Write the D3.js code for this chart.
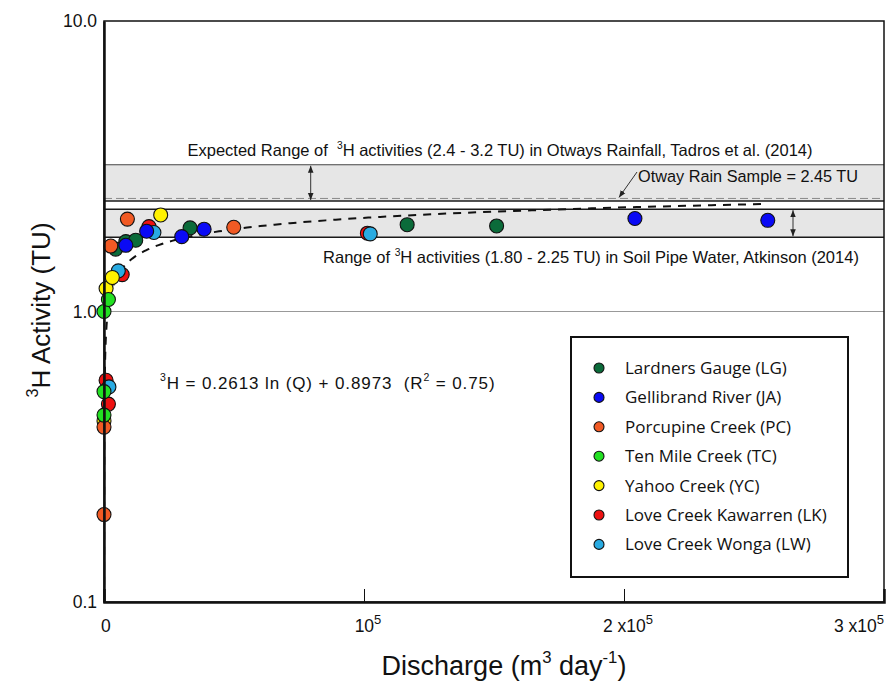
<!DOCTYPE html>
<html>
<head>
<meta charset="utf-8">
<script src="https://cdn.jsdelivr.net/npm/d3@7"></script>
<style>
  html, body { margin: 0; padding: 0; background: #fff; }
  svg { display: block; }
  text { font-family: "Liberation Sans", Arial, sans-serif; fill: #111; white-space: pre; }
  .legend text { font-family: "Open Sans", "Noto Sans", sans-serif; }
</style>
</head>
<body>
<svg id="chart" width="887" height="683"></svg>
<script>
// ---- Sites (legend order) and colours ----
const categories = [
  "Lardners Gauge (LG)",
  "Gellibrand River (JA)",
  "Porcupine Creek (PC)",
  "Ten Mile Creek (TC)",
  "Yahoo Creek (YC)",
  "Love Creek Kawarren (LK)",
  "Love Creek Wonga (LW)"
];
const siteColors = ["#0b6b3a", "#0a0af5", "#f15a24", "#22e022", "#fff200", "#ee1111", "#29abe2"];

// ---- Discharge (m3/day) and tritium activity (TU) per site ----
const lgQ  = [4500, 8400, 12200, 33100, 116600, 151000];
const lgTU = [1.64, 1.74, 1.76, 1.94, 1.99, 1.97];
const jaQ  = [8400, 16400, 29900, 38500, 204200, 255300];
const jaTU = [1.69, 1.89, 1.81, 1.92, 2.09, 2.06];
const pcQ  = [0, 0, 2600, 9000, 49900];
const pcTU = [0.20, 0.40, 1.68, 2.08, 1.95];
const tcQ  = [0, 0, 0, 1700];
const tcTU = [0.44, 0.53, 1.00, 1.10];
const ycQ  = [0, 800, 3200, 21800];
const ycTU = [0.42, 1.20, 1.31, 2.15];
const lkQ  = [800, 1700, 7000, 17300, 101300];
const lkTU = [0.58, 0.48, 1.34, 1.96, 1.86];
const lwQ  = [1900, 5500, 19200, 102400];
const lwTU = [0.55, 1.38, 1.87, 1.85];

// ---- Reference ranges (TU) ----
const rainRange = [2.4, 3.2];      // Otways rainfall, Tadros et al. (2014)
const rainSample = 2.45;           // Otway rain sample
const soilPipeRange = [1.80, 2.25];// soil pipe water, Atkinson (2014)

// ---- Regression: 3H = a ln(Q) + b, Q in ML/day ----
const fitA = 0.2613, fitB = 0.8973, fitUnit = 1000; // m3 per ML
const fitQRange = [40, 255000];

// ---- Axis ticks ----
const xTickValues = [0, 1e5, 2e5, 3e5];
const xTickLabels = [["0", ""], ["10", "5"], ["2 x10", "5"], ["3 x10", "5"]];
const yTickValues = [0.1, 1, 10];
const yTickLabels = ["0.1", "1.0", "10.0"];

// draw order (back to front)
const seriesData = [
  { i: 5, q: lkQ, tu: lkTU },
  { i: 6, q: lwQ, tu: lwTU },
  { i: 0, q: lgQ, tu: lgTU },
  { i: 1, q: jaQ, tu: jaTU },
  { i: 4, q: ycQ, tu: ycTU },
  { i: 2, q: pcQ, tu: pcTU },
  { i: 3, q: tcQ, tu: tcTU }
];

const svg = d3.select("#chart");
const L = 104, R = 884, T = 21, B = 602;

const x = d3.scaleLinear().domain([0, 3e5]).range([L, R]);
const y = d3.scaleLog().domain([0.1, 10]).range([B, T]);

// clip region for plot content
svg.append("defs").append("clipPath").attr("id", "plotClip")
  .append("rect").attr("x", L).attr("y", T).attr("width", R - L).attr("height", B - T);

const defs = svg.select("defs");
function arrowMarker(id, orient) {
  defs.append("marker")
    .attr("id", id).attr("viewBox", "0 0 10 10")
    .attr("refX", 10).attr("refY", 5)
    .attr("markerWidth", 7).attr("markerHeight", 7)
    .attr("markerUnits", "userSpaceOnUse")
    .attr("orient", orient)
    .append("path").attr("d", "M0,1 L10,5 L0,9 Z").attr("fill", "#222");
}
arrowMarker("arrEnd", "auto");
arrowMarker("arrStart", "auto-start-reverse");

// ---- Shaded bands ----
const bands = svg.append("g");
bands.append("rect")
  .attr("x", L).attr("width", R - L)
  .attr("y", y(rainRange[1])).attr("height", y(rainRange[0]) - y(rainRange[1]))
  .attr("fill", "#e6e6e6");
bands.append("rect")
  .attr("x", L).attr("width", R - L)
  .attr("y", y(soilPipeRange[1])).attr("height", y(soilPipeRange[0]) - y(soilPipeRange[1]))
  .attr("fill", "#e6e6e6");
// band edges
bands.append("line").attr("x1", L).attr("x2", R)
  .attr("y1", y(rainRange[1])).attr("y2", y(rainRange[1]))
  .attr("stroke", "#444").attr("stroke-width", 1);
[rainRange[0], soilPipeRange[0], soilPipeRange[1]].forEach(v => {
  bands.append("line").attr("x1", L).attr("x2", R)
    .attr("y1", y(v)).attr("y2", y(v))
    .attr("stroke", "#1a1a1a").attr("stroke-width", 1.5);
});
// rain sample line
bands.append("line").attr("x1", L).attr("x2", R)
  .attr("y1", y(rainSample)).attr("y2", y(rainSample))
  .attr("stroke", "#888").attr("stroke-width", 1).attr("stroke-dasharray", "8,4");

// 1.0 grid line
svg.append("line").attr("x1", L).attr("x2", R)
  .attr("y1", y(1)).attr("y2", y(1))
  .attr("stroke", "#999").attr("stroke-width", 1);

// range arrows
svg.append("line")
  .attr("x1", x(0.795e5)).attr("x2", x(0.795e5))
  .attr("y1", y(rainRange[1]) + 1).attr("y2", y(rainRange[0]) - 1)
  .attr("stroke", "#333").attr("stroke-width", 1)
  .attr("marker-start", "url(#arrStart)").attr("marker-end", "url(#arrEnd)");
svg.append("line")
  .attr("x1", x(2.65e5)).attr("x2", x(2.65e5))
  .attr("y1", y(soilPipeRange[1]) + 1).attr("y2", y(soilPipeRange[0]) - 1)
  .attr("stroke", "#333").attr("stroke-width", 1)
  .attr("marker-start", "url(#arrStart)").attr("marker-end", "url(#arrEnd)");
// rain sample pointer
svg.append("line")
  .attr("x1", 637).attr("y1", 172)
  .attr("x2", 619).attr("y2", y(rainSample) - 1)
  .attr("stroke", "#333").attr("stroke-width", 1)
  .attr("marker-end", "url(#arrEnd)");

// ---- Regression curve ----
const fitQ = d3.range(0, 201).map(k => fitQRange[0] * Math.pow(fitQRange[1] / fitQRange[0], k / 200));
const fitLine = d3.line()
  .x(q => x(q))
  .y(q => y(Math.max(0.05, fitA * Math.log(q / fitUnit) + fitB)));
svg.append("path")
  .datum(fitQ)
  .attr("clip-path", "url(#plotClip)")
  .attr("d", fitLine)
  .attr("fill", "none").attr("stroke", "#111")
  .attr("stroke-width", 2).attr("stroke-dasharray", "8,7");

// ---- Data points ----
const pts = svg.append("g");
seriesData.forEach(s => {
  pts.selectAll(null)
    .data(s.q.map((q, k) => ({ q, tu: s.tu[k] })))
    .join("circle")
    .attr("cx", d => x(d.q)).attr("cy", d => y(d.tu))
    .attr("r", 7)
    .attr("fill", siteColors[s.i])
    .attr("stroke", "#111").attr("stroke-width", 1.1);
});

// ---- Frame and axes ----
svg.append("rect").attr("x", L).attr("y", T).attr("width", R - L).attr("height", B - T)
  .attr("fill", "none").attr("stroke", "#111").attr("stroke-width", 1.5);

const xAxis = d3.axisBottom(x).tickValues([1e5, 2e5]).tickSize(-13).tickFormat("");
const gx = svg.append("g").attr("transform", `translate(0,${B})`).call(xAxis);
gx.select(".domain").attr("stroke", "#111").attr("stroke-width", 2.5);
gx.selectAll(".tick line").attr("stroke", "#111").attr("stroke-width", 1);

const yAxis = d3.axisLeft(y).tickValues(yTickValues).tickSize(0).tickPadding(7)
  .tickFormat((d, k) => yTickLabels[k]);
const gy = svg.append("g").attr("transform", `translate(${L},0)`).call(yAxis);
gy.select(".domain").attr("stroke", "#111").attr("stroke-width", 2.5);
gy.selectAll(".tick text")
  .attr("font-family", "Liberation Sans, Arial, sans-serif")
  .attr("font-size", 17.5).attr("fill", "#111");

// x tick labels with superscript exponents
const xLab = svg.append("g").attr("font-size", 17.5);
xTickValues.forEach((v, k) => {
  const [base, sup] = xTickLabels[k];
  const anchor = k === 0 ? "start" : (k === 3 ? "end" : "middle");
  const dx = k === 0 ? -3 : (k === 3 ? 0 : 4);
  const t = xLab.append("text")
    .attr("x", x(v) + dx).attr("y", 632)
    .attr("text-anchor", anchor);
  t.append("tspan").text(base);
  if (sup) t.append("tspan").attr("dy", -8).attr("font-size", 13).text(sup);
});

// ---- Text annotations ----
function supText(g, xPos, yPos, size, parts, anchor) {
  const t = g.append("text").attr("x", xPos).attr("y", yPos)
    .attr("font-size", size).attr("text-anchor", anchor || "start");
  let up = false;
  parts.forEach(p => {
    const sp = t.append("tspan").text(p.t);
    if (p.sup && !up) { sp.attr("dy", -size * 0.45).attr("font-size", size * 0.62); up = true; }
    else if (!p.sup && up) { sp.attr("dy", size * 0.45); up = false; }
  });
  return t;
}
const ann = svg.append("g");
supText(ann, 500, 156, 16.5, [
  { t: "Expected Range of  " }, { t: "3", sup: true },
  { t: "H activities (2.4 - 3.2 TU) in Otways Rainfall, Tadros et al. (2014)" }
], "middle");
supText(ann, 591, 263, 16.5, [
  { t: "Range of " }, { t: "3", sup: true },
  { t: "H activities (1.80 - 2.25 TU) in Soil Pipe Water, Atkinson (2014)" }
], "middle");
ann.append("text").attr("x", 638).attr("y", 182).attr("font-size", 16.3)
  .text("Otway Rain Sample = 2.45 TU");
supText(ann, 160, 389, 17, [
  { t: "3", sup: true },
  { t: "H = 0.2613 ln (Q) + 0.8973  (R" }, { t: "2", sup: true }, { t: " = 0.75)" }
], "start").attr("letter-spacing", 0.9);

// axis titles
supText(svg, 504, 675, 27, [
  { t: "Discharge (m" }, { t: "3", sup: true }, { t: " day" }, { t: "-1", sup: true }, { t: ")" }
], "middle");
const yt = supText(svg, 0, 0, 26, [
  { t: "3", sup: true }, { t: "H Activity (TU)" }
], "middle");
yt.attr("transform", "translate(50,310) rotate(-90)");

// ---- Legend ----
const lg = svg.append("g").attr("class", "legend");
lg.append("rect").attr("x", 571).attr("y", 337).attr("width", 277).attr("height", 240)
  .attr("fill", "#fff").attr("stroke", "#111").attr("stroke-width", 2);
categories.forEach((c, k) => {
  const cy = 368 + k * 29.4;
  lg.append("circle").attr("cx", 599).attr("cy", cy).attr("r", 5)
    .attr("fill", siteColors[k]).attr("stroke", "#111").attr("stroke-width", 1.1);
  lg.append("text").attr("x", 625).attr("y", cy + 6).attr("font-size", 17).text(c);
});
</script>
</body>
</html>
